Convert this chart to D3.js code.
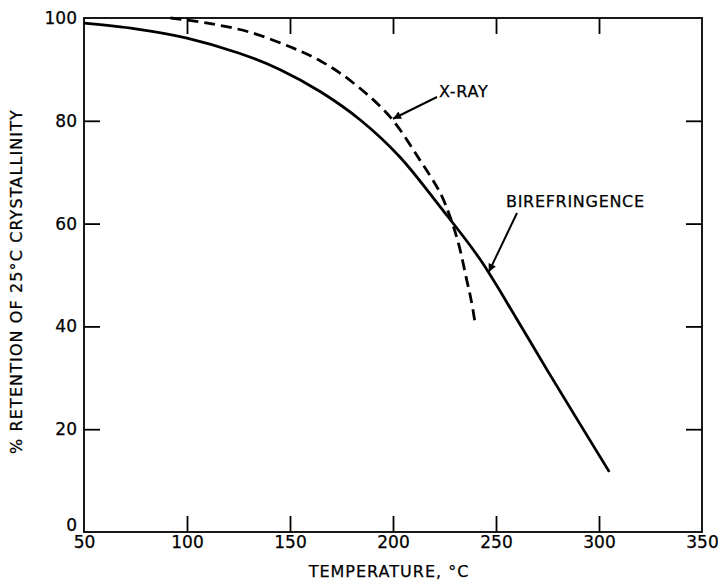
<!DOCTYPE html>
<html>
<head>
<meta charset="utf-8">
<script src="https://cdn.jsdelivr.net/npm/d3@7"></script>
<style>
  html, body { margin: 0; padding: 0; background: #fff; }
  svg { display: block; }
  text { font-family: "DejaVu Sans", sans-serif; fill: #000; stroke: #000; stroke-width: 0.25px; }
</style>
</head>
<body>
<svg id="chart" width="718" height="580"></svg>
<script>
// ---- data ----
const xTicks = [50, 100, 150, 200, 250, 300, 350];
const yTicks = [0, 20, 40, 60, 80, 100];
const biroTemp = [50, 75, 100, 125, 145, 165, 184, 203, 223, 242, 260, 275, 305];
const biroVal  = [99, 97.9, 96.1, 93.2, 90, 85.6, 80.2, 73.1, 63.2, 53.2, 41.5, 31.4, 11.7];
const xrayTemp = [92, 110, 130, 150, 165, 180, 198.5, 213, 223, 228, 232, 235.8, 238, 240];
const xrayVal  = [100, 99, 97.3, 94.4, 91.6, 87.6, 80.8, 72.4, 65.9, 61, 55.8, 49, 45, 40.3];
const labels = [
  { text: "X-RAY", tx: 439, ty: 97, from: [437, 97], to: [200, 80.4] },
  { text: "BIREFRINGENCE", tx: 506, ty: 207, from: [517, 213], to: [246.5, 50.6] }
];
const xTitle = "TEMPERATURE, °C";
const yTitle = "% RETENTION OF 25°C CRYSTALLINITY";

// ---- layout ----
const svg = d3.select("#chart");
const L = 84, R = 702, T = 18, B = 532;
const x = d3.scaleLinear().domain([50, 350]).range([L, R]);
const y = d3.scaleLinear().domain([0, 100]).range([B, T]);
const TS = 16;

svg.append("defs").append("marker")
  .attr("id", "arrow").attr("viewBox", "0 0 10 10")
  .attr("refX", 10).attr("refY", 5)
  .attr("markerWidth", 11).attr("markerHeight", 8)
  .attr("markerUnits", "userSpaceOnUse")
  .attr("orient", "auto")
  .append("path").attr("d", "M0,0 L10,5 L0,10 z").attr("fill", "#000");

// frame
svg.append("rect").attr("x", L).attr("y", T).attr("width", R - L).attr("height", B - T)
  .attr("fill", "none").attr("stroke", "#000").attr("stroke-width", 1.8);

function styleAxis(g, sw) {
  g.select(".domain").remove();
  g.selectAll(".tick line").attr("stroke", "#000").attr("stroke-width", sw);
  g.selectAll(".tick text").style("font-family", '"DejaVu Sans", sans-serif')
    .style("font-size", "17px").attr("fill", "#000");
}

// bottom axis
const gx = svg.append("g").attr("transform", `translate(0,${B})`)
  .call(d3.axisBottom(x).tickValues(xTicks).tickSizeInner(-TS).tickSizeOuter(0).tickFormat(d3.format("d")));
styleAxis(gx, 1.8);
gx.selectAll(".tick text").attr("y", 4).attr("dy", "0.71em");
gx.selectAll(".tick").filter(d => d === 50 || d === 350).select("line").remove();

// top axis
const gt = svg.append("g").attr("transform", `translate(0,${T})`)
  .call(d3.axisTop(x).tickValues(xTicks.filter(d => d > 50 && d < 350)).tickSizeInner(-TS).tickSizeOuter(0).tickFormat(""));
styleAxis(gt, 1.8);

// left axis
const gy = svg.append("g").attr("transform", `translate(${L},0)`)
  .call(d3.axisLeft(y).tickValues(yTicks).tickSizeInner(-TS).tickSizeOuter(0).tickFormat(d3.format("d")));
styleAxis(gy, 1.8);
gy.selectAll(".tick text").attr("x", -7);
gy.selectAll(".tick").filter(d => d === 0).select("text").attr("dy", "-0.1em");
gy.selectAll(".tick").filter(d => d === 0 || d === 100).select("line").remove();

// right axis
const gr = svg.append("g").attr("transform", `translate(${R},0)`)
  .call(d3.axisRight(y).tickValues(yTicks.filter(d => d > 0 && d < 100)).tickSizeInner(-TS).tickSizeOuter(0).tickFormat(""));
styleAxis(gr, 1.8);

// curves
const line = d3.line().x(d => x(d[0])).y(d => y(d[1])).curve(d3.curveCatmullRom.alpha(0.5));
svg.append("path").datum(biroTemp.map((t, i) => [t, biroVal[i]]))
  .attr("d", line).attr("fill", "none").attr("stroke", "#000").attr("stroke-width", 2.8);
svg.append("path").datum(xrayTemp.map((t, i) => [t, xrayVal[i]]))
  .attr("d", line).attr("fill", "none").attr("stroke", "#000").attr("stroke-width", 2.8)
  .attr("stroke-dasharray", "11,6");

// annotations
labels.forEach(l => {
  svg.append("text").attr("x", l.tx).attr("y", l.ty)
    .style("font-size", "16px").style("letter-spacing", "0.7px").text(l.text);
  svg.append("line").attr("x1", l.from[0]).attr("y1", l.from[1])
    .attr("x2", x(l.to[0])).attr("y2", y(l.to[1]))
    .attr("stroke", "#000").attr("stroke-width", 2).attr("marker-end", "url(#arrow)");
});

// axis titles
svg.append("text").attr("x", (L + R) / 2 - 4).attr("y", 577).attr("text-anchor", "middle")
  .style("font-size", "16px").style("letter-spacing", "1px").text(xTitle);
svg.append("text").attr("transform", `translate(22,${(110 + 453) / 2}) rotate(-90)`)
  .attr("text-anchor", "middle").style("font-size", "16px").style("letter-spacing", "1.1px").text(yTitle);
</script>
</body>
</html>
